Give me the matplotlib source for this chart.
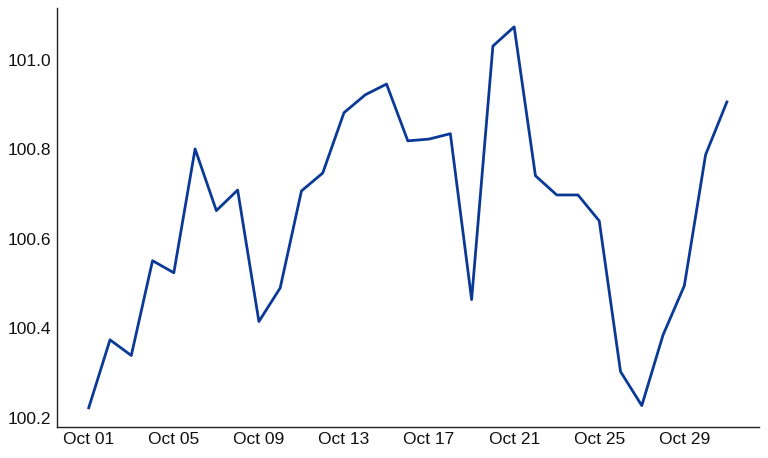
import numpy as np
import pandas as pd
import matplotlib
matplotlib.use('Agg')
import matplotlib.pyplot as plt
import matplotlib.dates as mdates

plt.rcParams['font.family'] = ['Liberation Sans', 'DejaVu Sans']

dates = pd.date_range('2023-10-01', '2023-10-31', freq='D')
values = [100.222, 100.374, 100.339, 100.551, 100.524, 100.801, 100.663, 100.709,
          100.415, 100.490, 100.707, 100.747, 100.882, 100.922, 100.946, 100.819,
          100.823, 100.835, 100.464, 101.031, 101.074, 100.741, 100.698, 100.698,
          100.640, 100.303, 100.227, 100.385, 100.495, 100.788, 100.906]
tick_dates = pd.date_range('2023-10-01', '2023-10-31', freq='4D')


def main():
    fig = plt.figure(figsize=(7.68, 4.58), dpi=100)
    ax = fig.add_axes([0.074, 0.068, 0.914, 0.915])
    ax.plot(dates, values, color='#0b3a96', linewidth=2.0)

    ax.set_xticks(tick_dates)
    ax.xaxis.set_major_formatter(mdates.DateFormatter('%b %d'))
    ax.set_yticks([100.2, 100.4, 100.6, 100.8, 101.0])
    ax.yaxis.set_major_formatter(plt.FormatStrFormatter('%.1f'))

    ax.tick_params(length=0, pad=4, labelsize=12.5, colors='#111111')
    for side in ('top', 'right'):
        ax.spines[side].set_visible(False)
    for side in ('left', 'bottom'):
        ax.spines[side].set_linewidth(1.0)
        ax.spines[side].set_color('#222222')

    fig.savefig('out.png', dpi=100)


if __name__ == '__main__':
    main()
